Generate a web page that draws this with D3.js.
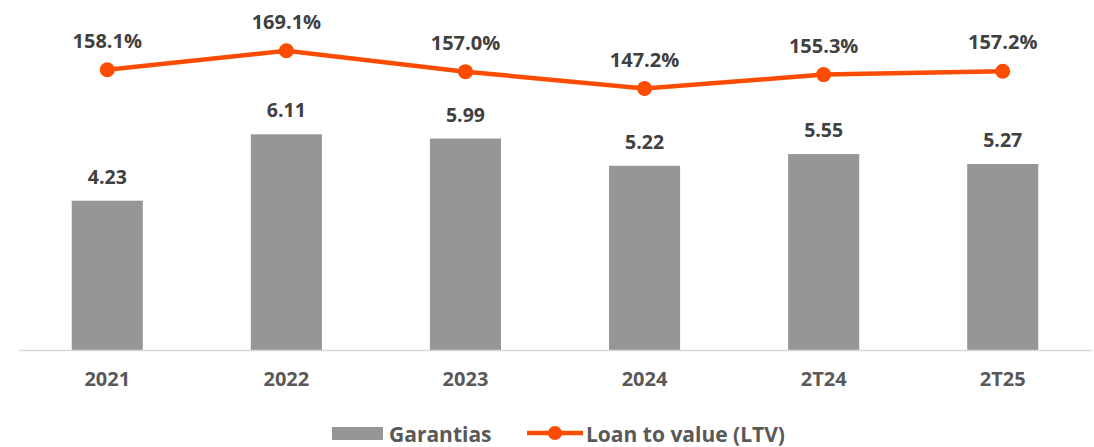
<!doctype html>
<html lang="pt">
<head>
<meta charset="utf-8">
<script src="https://d3js.org/d3.v7.min.js"></script>
<style>
  body { margin: 0; background: #fff; }
  text { font-family: "Open Sans", Roboto, sans-serif; font-weight: 700; }
</style>
</head>
<body>
<script>
// data
var periods = ["2021", "2022", "2023", "2024", "2T24", "2T25"];
var garantias = [4.23, 6.11, 5.99, 5.22, 5.55, 5.27];
var ltv = [158.1, 169.1, 157.0, 147.2, 155.3, 157.2];

var width = 1094, height = 447;
var baseY = 350;

var svg = d3.select("body").append("svg")
    .attr("width", width)
    .attr("height", height);

var x = d3.scaleBand()
    .domain(periods)
    .range([18, 1092])
    .paddingInner(0.603)
    .paddingOuter(0.3);

// bars
var y = d3.scaleLinear().domain([0, 10]).range([baseY, baseY - 353]);
// line (separate axis)
var yL = d3.scaleLinear().domain([140, 170]).range([101, 49.2]);

var cx = function(d, i) { return x(periods[i]) + x.bandwidth() / 2; };

svg.selectAll(".bar")
  .data(garantias)
  .enter().append("rect")
    .attr("class", "bar")
    .attr("x", function(d, i) { return x(periods[i]); })
    .attr("width", x.bandwidth())
    .attr("y", function(d) { return y(d); })
    .attr("height", function(d) { return baseY - y(d); })
    .attr("fill", "#969696");

svg.selectAll(".barlabel")
  .data(garantias)
  .enter().append("text")
    .attr("x", cx)
    .attr("y", function(d) { return y(d) - 17; })
    .attr("text-anchor", "middle")
    .attr("fill", "#404040")
    .style("font-size", "19.5px")
    .text(function(d) { return d.toFixed(2); });

// x axis
var axis = svg.append("g")
    .attr("transform", "translate(0," + baseY + ")")
    .call(d3.axisBottom(x).tickSize(0).tickPadding(22));
axis.select(".domain").attr("stroke", "#d9d9d9").attr("stroke-width", 1.5);
axis.selectAll("text")
    .attr("fill", "#595959")
    .style("font-size", "20px")
    .style("font-family", "'Open Sans', sans-serif")
    .style("font-weight", 700);

// LTV line
var line = d3.line()
    .x(cx)
    .y(function(d) { return yL(d); });

svg.append("path")
    .datum(ltv)
    .attr("fill", "none")
    .attr("stroke", "#fc4c02")
    .attr("stroke-width", 4.5)
    .attr("d", line);

svg.selectAll(".dot")
  .data(ltv)
  .enter().append("circle")
    .attr("cx", cx)
    .attr("cy", function(d) { return yL(d); })
    .attr("r", 7.5)
    .attr("fill", "#fc4c02");

svg.selectAll(".ltvlabel")
  .data(ltv)
  .enter().append("text")
    .attr("x", cx)
    .attr("y", function(d) { return yL(d) - 22; })
    .attr("text-anchor", "middle")
    .attr("fill", "#404040")
    .style("font-size", "20px")
    .text(function(d) { return d.toFixed(1) + "%"; });

// legend
var lg = svg.append("g");
lg.append("rect")
    .attr("x", 332).attr("y", 427)
    .attr("width", 51).attr("height", 13)
    .attr("fill", "#969696");
lg.append("text")
    .attr("x", 389).attr("y", 442)
    .attr("fill", "#595959")
    .style("font-size", "21px")
    .text("Garantias");
lg.append("line")
    .attr("x1", 527).attr("x2", 583)
    .attr("y1", 433).attr("y2", 433)
    .attr("stroke", "#fc4c02")
    .attr("stroke-width", 4.5);
lg.append("circle")
    .attr("cx", 555).attr("cy", 433).attr("r", 7)
    .attr("fill", "#fc4c02");
lg.append("text")
    .attr("x", 586).attr("y", 442)
    .attr("fill", "#595959")
    .style("font-size", "21px")
    .text("Loan to value (LTV)");
</script>
</body>
</html>
